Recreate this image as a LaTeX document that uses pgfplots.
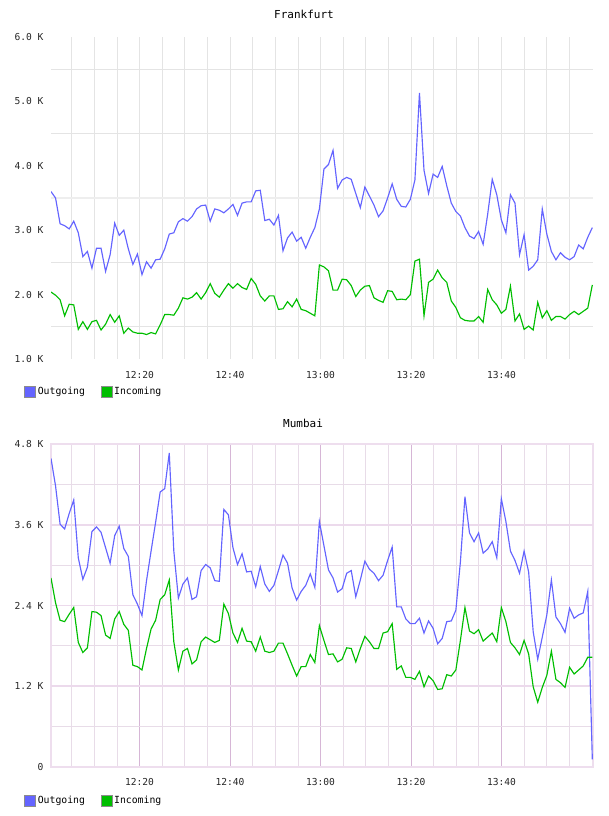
\documentclass[border=0pt]{standalone}
\usepackage{fontspec}
\setmainfont{DejaVu Sans Mono}
\usepackage{pgfplots}
\pgfplotsset{compat=1.18}
\usepackage{pgfplotstable}
\definecolor{outc}{RGB}{100,100,255}
\definecolor{inc}{RGB}{0,190,0}
\definecolor{fgrid}{RGB}{228,228,228}
\definecolor{fmid}{RGB}{238,238,238}
\definecolor{mminor}{RGB}{232,220,232}
\definecolor{mmajv}{RGB}{214,182,214}
\definecolor{mmajh}{RGB}{236,218,236}
\definecolor{mborder}{RGB}{238,222,238}

\pgfplotstableread{
i fo fi mo mi
1 3.60 2.04 4.59 2.81
2 3.50 1.99 4.18 2.44
3 3.10 1.92 3.61 2.18
4 3.07 1.67 3.54 2.16
5 3.02 1.85 3.77 2.27
6 3.14 1.84 3.97 2.37
7 2.96 1.46 3.11 1.85
8 2.59 1.58 2.79 1.70
9 2.67 1.46 2.97 1.77
10 2.41 1.58 3.50 2.31
11 2.72 1.60 3.57 2.30
12 2.72 1.45 3.49 2.25
13 2.36 1.54 3.26 1.96
14 2.62 1.69 3.03 1.91
15 3.11 1.57 3.44 2.20
16 2.92 1.67 3.58 2.31
17 3.00 1.40 3.25 2.12
18 2.71 1.48 3.13 2.03
19 2.47 1.42 2.56 1.51
20 2.63 1.40 2.42 1.49
21 2.31 1.40 2.25 1.44
22 2.51 1.38 2.77 1.76
23 2.41 1.41 3.21 2.05
24 2.54 1.39 3.64 2.18
25 2.55 1.53 4.09 2.49
26 2.71 1.69 4.14 2.56
27 2.94 1.69 4.67 2.78
28 2.96 1.68 3.21 1.86
29 3.13 1.79 2.51 1.44
30 3.18 1.95 2.72 1.72
31 3.14 1.93 2.81 1.76
32 3.21 1.96 2.49 1.53
33 3.33 2.03 2.53 1.59
34 3.38 1.93 2.92 1.86
35 3.39 2.03 3.01 1.93
36 3.14 2.17 2.96 1.89
37 3.33 2.02 2.77 1.85
38 3.31 1.96 2.76 1.88
39 3.27 2.07 3.83 2.42
40 3.33 2.17 3.75 2.28
41 3.40 2.10 3.26 1.99
42 3.23 2.17 3.01 1.85
43 3.42 2.11 3.17 2.06
44 3.44 2.08 2.90 1.87
45 3.44 2.25 2.91 1.86
46 3.61 2.16 2.68 1.72
47 3.62 1.98 2.98 1.93
48 3.15 1.90 2.72 1.72
49 3.17 1.98 2.61 1.70
50 3.08 1.98 2.70 1.72
51 3.23 1.77 2.92 1.84
52 2.68 1.78 3.15 1.84
53 2.88 1.89 3.03 1.68
54 2.97 1.81 2.66 1.51
55 2.83 1.93 2.48 1.35
56 2.89 1.77 2.61 1.49
57 2.72 1.75 2.70 1.49
58 2.89 1.71 2.87 1.67
59 3.04 1.67 2.67 1.55
60 3.33 2.46 3.65 2.10
61 3.95 2.43 3.29 1.88
62 4.02 2.37 2.93 1.67
63 4.24 2.07 2.81 1.68
64 3.65 2.07 2.60 1.56
65 3.78 2.24 2.65 1.60
66 3.82 2.23 2.88 1.77
67 3.79 2.14 2.92 1.76
68 3.57 1.97 2.53 1.56
69 3.35 2.07 2.78 1.76
70 3.67 2.13 3.06 1.94
71 3.53 2.14 2.94 1.86
72 3.39 1.95 2.88 1.76
73 3.21 1.91 2.77 1.76
74 3.30 1.88 2.85 1.99
75 3.50 2.06 3.07 2.01
76 3.72 2.05 3.27 2.13
77 3.48 1.92 2.38 1.45
78 3.37 1.93 2.38 1.50
79 3.36 1.92 2.20 1.33
80 3.48 2.00 2.13 1.33
81 3.78 2.52 2.13 1.30
82 5.13 2.55 2.21 1.42
83 3.93 1.67 1.99 1.19
84 3.57 2.19 2.17 1.35
85 3.87 2.24 2.06 1.28
86 3.82 2.38 1.83 1.15
87 3.99 2.26 1.91 1.16
88 3.69 2.19 2.16 1.37
89 3.42 1.90 2.17 1.35
90 3.29 1.80 2.33 1.44
91 3.22 1.64 3.05 1.88
92 3.04 1.60 4.02 2.37
93 2.91 1.59 3.48 2.02
94 2.87 1.59 3.35 1.98
95 2.98 1.66 3.48 2.04
96 2.78 1.57 3.18 1.87
97 3.25 2.08 3.24 1.93
98 3.79 1.92 3.35 1.99
99 3.55 1.84 3.11 1.86
100 3.16 1.71 3.99 2.37
101 2.96 1.77 3.65 2.16
102 3.55 2.13 3.21 1.85
103 3.42 1.59 3.07 1.77
104 2.62 1.70 2.88 1.67
105 2.93 1.46 3.21 1.88
106 2.38 1.51 2.90 1.68
107 2.44 1.45 2.01 1.19
108 2.54 1.88 1.60 0.96
109 3.33 1.64 1.93 1.18
110 2.94 1.75 2.26 1.36
111 2.67 1.60 2.78 1.72
112 2.54 1.66 2.23 1.30
113 2.65 1.66 2.13 1.25
114 2.58 1.62 2.00 1.18
115 2.54 1.69 2.36 1.48
116 2.59 1.74 2.21 1.38
117 2.77 1.69 2.26 1.44
118 2.71 1.74 2.29 1.50
119 2.89 1.79 2.61 1.63
120 3.04 2.15 0.11 1.63
}\datatable

\pgfplotsset{
  common/.style={
    scale only axis, width=542pt, height=322pt, anchor=south west,
    xmin=1, xmax=120.15,
    major tick length=0pt, minor tick length=0pt,
    tick label style={font=\fontsize{9.6}{11}\selectfont, text=black!85},
    xtick={20.47,40.36,60.25,80.14,100.03},
    xticklabels={12:20,12:40,13:00,13:20,13:40},
    minor xtick={5.55,10.53,15.50,25.45,30.42,35.39,45.34,50.31,55.28,65.23,70.20,75.17,85.12,90.09,95.06,105.01,109.98,114.95},
    xminorgrids=true, xmajorgrids=true,
    yticklabel style={xshift=-4pt},
    title style={font=\fontsize{11}{13}\selectfont, anchor=center},
    legend columns=2,
    legend style={draw=none, fill=none, inner sep=0pt, anchor=west,
      font=\fontsize{9.8}{11}\selectfont,
      /tikz/every even column/.append style={column sep=13.5pt}},
    legend image code/.code={\draw[#1, draw=gray!90, line width=0.6pt] (0pt,-5.5pt) rectangle (11pt,5.5pt);},
  }
}

\begin{document}
\begin{tikzpicture}
\path[use as bounding box] (0pt,0pt) rectangle (608pt,816pt);

\begin{axis}[common, at={(51pt,457pt)},
  ymin=1, ymax=6, ytick={1,2,3,4,5,6},
  yticklabels={1.0 K,2.0 K,3.0 K,4.0 K,5.0 K,6.0 K},
  minor ytick={1.5,2.5,3.5,4.5,5.5}, yminorgrids=true,
  major grid style={fgrid, line width=0.8pt},
  minor grid style={fgrid, line width=0.8pt},
  extra y ticks={3.5}, extra y tick labels={},
  extra y tick style={grid=major, major grid style={fmid, line width=2pt}},
  axis line style={draw=none},
  xticklabel style={yshift=-8.4pt},
  title={Frankfurt}, title style={at={(0.4668,1.0528)}},
  legend style={at={(-0.0498,-0.1025)}},
]
\addlegendimage{fill=outc}
\addlegendentry{Outgoing}
\addlegendimage{fill=inc}
\addlegendentry{Incoming}
\addplot[outc, line width=1.15pt, forget plot] table[x=i, y=fo] {\datatable};
\addplot[inc, line width=1.15pt, forget plot] table[x=i, y=fi] {\datatable};
\end{axis}

\begin{axis}[common, at={(51pt,49.3pt)}, height=322.4pt,
  ymin=0, ymax=4.8, ytick={0,1.2,2.4,3.6,4.8},
  yticklabels={0,1.2 K,2.4 K,3.6 K,4.8 K},
  minor ytick={0.6,1.8,3.0,4.2}, yminorgrids=true,
  major grid style={mmajv, line width=0.9pt},
  minor grid style={mminor, line width=0.8pt},
  extra y ticks={1.2,2.4,3.6}, extra y tick labels={},
  extra y tick style={grid=major, major grid style={mmajh, line width=1.6pt}},
  axis line style={mborder, line width=2pt},
  xticklabel style={yshift=-7.7pt},
  title={Mumbai}, title style={at={(0.465,1.0475)}},
  legend style={at={(-0.0498,-0.1055)}},
]
\addlegendimage{fill=outc}
\addlegendentry{Outgoing}
\addlegendimage{fill=inc}
\addlegendentry{Incoming}
\addplot[outc, line width=1.15pt, forget plot] table[x=i, y=mo] {\datatable};
\addplot[inc, line width=1.15pt, forget plot] table[x=i, y=mi] {\datatable};
\end{axis}
\end{tikzpicture}
\end{document}
